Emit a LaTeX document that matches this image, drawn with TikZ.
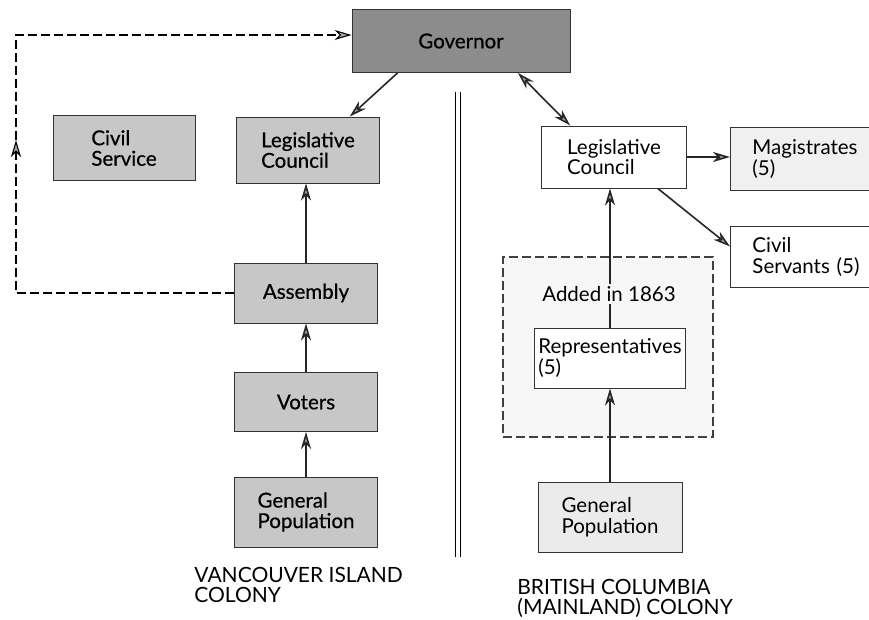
\documentclass[tikz,border=0pt]{standalone}
\usepackage{fontspec}
\setmainfont{Lato}
\newfontfamily\boxfont{Lato}[FakeBold=0.6]
\usepackage{xcolor}
\usepackage{tikz}
\usetikzlibrary{arrows.meta,positioning,calc}

\begin{document}
\begin{tikzpicture}[>={Stealth[length=17pt,width=10pt,inset=5pt,fill=black!35]}, ->, x=1pt, y=-1pt, thick, node distance=110pt,
    box/.style={draw=black!80, line width=0.9pt, inner sep=4pt, font=\fontsize{20.5}{20.5}\selectfont, align=left},
    leftbox/.style={box, font=\boxfont\fontsize{20.5}{20.5}\selectfont, fill=black!22, minimum width=143pt},
    rightbox/.style={box, fill=white, minimum width=145pt},
    cutbox/.style={box, anchor=west, text width=150pt, minimum height=63pt, inner xsep=22pt},
    link/.style={line width=1.6pt, draw=black!85},
    feedback/.style={dashed, line width=1.1pt, dash pattern=on 9pt off 4pt},
    caption/.style={font=\fontsize{21}{20}\selectfont, align=left, anchor=north west, inner sep=0pt}]

  \useasboundingbox (0,0) rectangle (869,620);

  % Vancouver Island side
  \node[leftbox, fill=black!45, minimum width=218pt, minimum height=63pt] (gov) at (461,41) {Governor};
  \node[leftbox, minimum width=142pt, minimum height=65pt] (civil) at (124,148) {Civil\\Service};
  \node[leftbox, minimum height=66pt] (lcL) at (308,150) {Legislative\\Council};
  \node[leftbox, minimum height=60pt] (assembly) at (306,293) {Assembly};
  \node[leftbox, minimum height=59pt] (voters) [below of=assembly, node distance=109pt] {Voters};
  \node[leftbox, minimum height=70pt] (popL) [below of=voters] {General\\Population};
  \node[caption] (capL) at (194,567) {VANCOUVER ISLAND\\COLONY};

  % the divider
  \draw[-, line width=0.8pt] (455,92) -- (455,557) (460,92) -- (460,557);

  % British Columbia side
  \node[draw=black!75, fill=black!3, feedback, minimum width=210pt, minimum height=180pt] (region) at (608,347) {};
  \node[rightbox, minimum height=62pt] (lcR) at (614,157) {Legislative\\Council};
  \node[cutbox, fill=black!6] (magis) at (730,159) {Magistrates\\(5)};
  \node[cutbox, fill=white, minimum height=61pt] (servants) at (730,257) {Civil\\Servants (5)};
  \node[rightbox, minimum width=146pt, minimum height=60pt] (reps) at (610,358) {Representatives\\(5)};
  \node[rightbox, fill=black!8, minimum width=144pt, minimum height=70pt] (popR) [below of=reps, node distance=159pt] {General\\Population};
  \node[caption] (capR) at (517,579) {BRITISH COLUMBIA\\(MAINLAND) COLONY};

  % connectors
  \draw[feedback] (assembly.west) -- (16,293) -- (16,140);
  \draw[feedback] (16,140) -- (16,35) -- (16,35 -| gov.west);
  \draw[link] ($(gov.south west)!0.21!(gov.south east)$) -- ($(lcL.north west)!0.79!(lcL.north east)$);
  \draw[link] (assembly.north) -- (assembly.north |- lcL.south);
  \draw[link] (voters.north) -- (voters.north |- assembly.south);
  \draw[link] (popL.north) -- (popL.north |- voters.south);

  \draw[link, <->] ($(gov.south west)!0.76!(gov.south east)$) -- ($(lcR.north west)!0.2!(lcR.north east)$);
  \draw[link] (lcR.east) -- (lcR.east -| magis.west);
  \draw[link] ($(lcR.south west)!0.8!(lcR.south east)$) -- ($(servants.north west)!0.33!(servants.south west)$);
  \draw[link] (reps.north) -- (reps.north |- lcR.south);
  \draw[link] (popR.north) -- (popR.north |- reps.south);

  \node[fill=black!3, inner sep=2pt, font=\fontsize{20.5}{20.5}\selectfont] (addedlbl) at (609,294) {Added in 1863};
\end{tikzpicture}
\end{document}
